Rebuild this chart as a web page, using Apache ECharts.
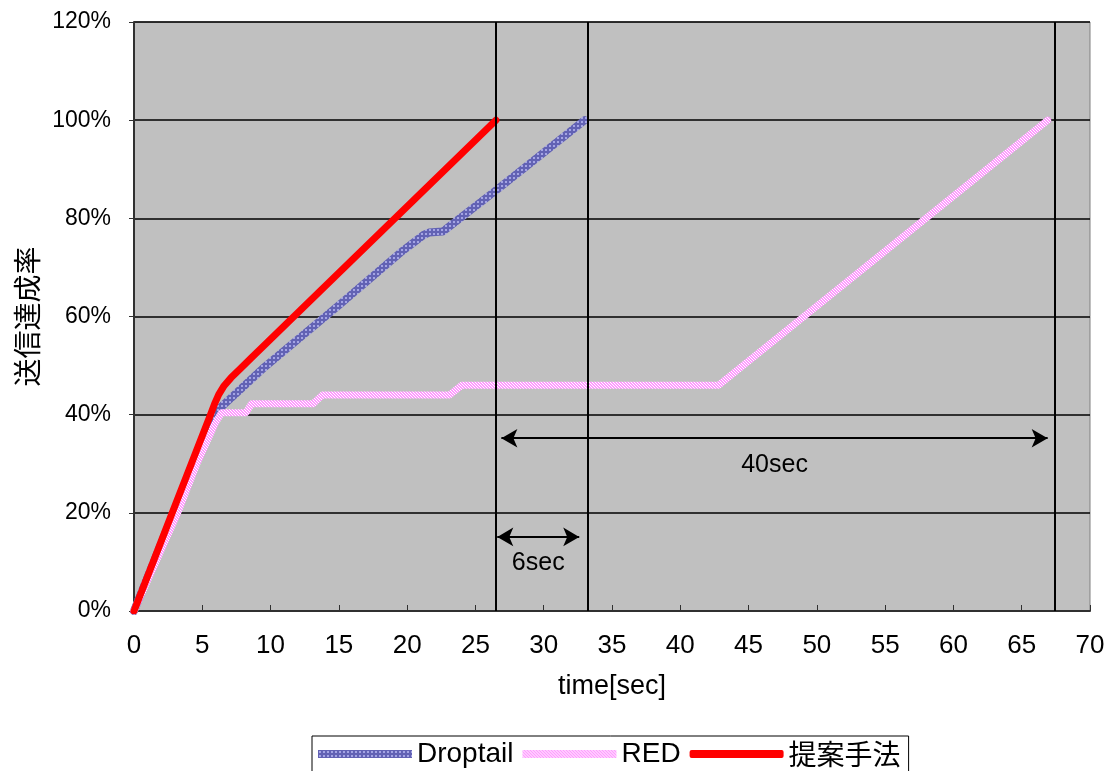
<!DOCTYPE html>
<html>
<head>
<meta charset="utf-8">
<script src="https://cdn.jsdelivr.net/npm/echarts@6/dist/echarts.min.js"></script>
<style>
  html, body { margin: 0; padding: 0; background: #ffffff; }
  #chart { width: 1109px; height: 771px; }
</style>
</head>
<body>
<div id="chart"></div>
<script>
// Cumulative transmission completion rate (%) over time (sec)
const droptailData = [
  [0, 0], [2.9, 20], [5.7, 40], [6.4, 41.6], [8, 45.7], [9.6, 49.8], [15, 62.3],
  [19.5, 73], [21.2, 76.6], [21.6, 77.1], [22.6, 77.3], [23.3, 78.8], [26.6, 85.9], [33.0, 100]
];
const redData = [
  [0, 0], [1.6, 10], [3.2, 20], [4.6, 30], [5.9, 38], [6.4, 40.4], [8.2, 40.4], [8.6, 42.2],
  [13.1, 42.2], [13.8, 44], [23.1, 44], [24.0, 46], [42.8, 46], [66.9, 100]
];
const proposedData = [
  [0, 0], [1.4, 10], [2.8, 20], [4.2, 30], [5.6, 40], [5.9, 42.2], [6.2, 44.1], [6.6, 45.9],
  [7.1, 47.5], [7.8, 49.4], [8.6, 51.6], [9.6, 54.3], [26.5, 100]
];
const seriesNames = ['Droptail', 'RED', '提案手法'];

// Completion times marked by vertical lines
const finishTimes = [26.5, 33.2, 67.4];
// Span annotations: start time, duration (sec), height (%)
const spanStarts = [26.6, 26.9];
const spanDurations = [6, 40];
const spanLevels = [15.1, 35.2];

const xTicks = { min: 0, max: 70, interval: 5 };
const yTicks = { min: 0, max: 120, interval: 20 };

function makePattern(size, base, dots, dotColor) {
  const c = document.createElement('canvas');
  c.width = size; c.height = size;
  const ctx = c.getContext('2d');
  ctx.fillStyle = base;
  ctx.fillRect(0, 0, size, size);
  ctx.fillStyle = dotColor;
  dots.forEach(d => ctx.fillRect(d[0], d[1], 1, 1));
  return { image: c, repeat: 'repeat' };
}

const blueTex = makePattern(4, '#6262b4', [[1, 1], [2, 1], [1, 2], [2, 2]], '#a4a4e4');
const pinkTex = makePattern(3, '#ff99ff', [[0, 0], [1, 1], [2, 2]], '#ffffff');

const chart = echarts.init(document.getElementById('chart'), null, { renderer: 'canvas' });

const markLines = [];
finishTimes.forEach(t => {
  markLines.push([
    { coord: [t, yTicks.min], symbol: 'none', lineStyle: { color: '#000', width: 2, type: 'solid' }, label: { show: false } },
    { coord: [t, yTicks.max], symbol: 'none' }
  ]);
});
spanStarts.forEach((s, i) => {
  markLines.push([
    {
      coord: [s, spanLevels[i]], symbol: 'arrow', symbolSize: [14, 16],
      lineStyle: { color: '#000', width: 2, type: 'solid' },
      label: {
        show: true, position: 'insideMiddleBottom', distance: 14,
        formatter: spanDurations[i] + 'sec',
        color: '#000', fontFamily: 'Liberation Sans', fontSize: 25
      }
    },
    { coord: [s + spanDurations[i], spanLevels[i]], symbol: 'arrow', symbolSize: [14, 16] }
  ]);
});

const option = {
  animation: false,
  backgroundColor: '#ffffff',
  grid: {
    left: 134, right: 19, top: 22, bottom: 160,
    show: true, backgroundColor: '#c0c0c0', borderColor: '#808080', borderWidth: 1
  },
  legend: {
    data: [
      { name: 'Droptail', icon: 'rect' },
      { name: 'RED', icon: 'rect' },
      { name: '提案手法', icon: 'roundRect' }
    ],
    left: 312, top: 736,
    itemWidth: 94, itemHeight: 8, itemGap: 9,
    padding: [4, 8, 14, 6],
    borderColor: '#000', borderWidth: 1, backgroundColor: '#ffffff',
    formatter: name => name === '提案手法' ? '{jp|' + name + '}' : name,
    textStyle: {
      color: '#000', fontFamily: 'Liberation Sans', fontSize: 28,
      rich: { jp: { fontFamily: 'Noto Sans CJK JP', fontSize: 28, color: '#000' } }
    }
  },
  xAxis: {
    type: 'value', min: xTicks.min, max: xTicks.max, interval: xTicks.interval,
    name: 'time[sec]', nameLocation: 'middle', nameGap: 62,
    nameTextStyle: { color: '#000', fontFamily: 'Liberation Sans', fontSize: 27 },
    axisLine: { show: true, onZero: false, lineStyle: { color: '#303030', width: 2 } },
    axisTick: { show: true, inside: true, length: 6, lineStyle: { color: '#303030' } },
    axisLabel: { color: '#000', fontFamily: 'Liberation Sans', fontSize: 26, margin: 22 },
    splitLine: { show: false }
  },
  yAxis: {
    type: 'value', min: yTicks.min, max: yTicks.max, interval: yTicks.interval,
    name: '送信達成率', nameLocation: 'middle', nameGap: 92, nameRotate: 90,
    nameTextStyle: { color: '#000', fontFamily: 'Noto Sans CJK JP', fontSize: 28 },
    axisLine: { show: true, lineStyle: { color: '#303030', width: 2 } },
    axisTick: { show: true, inside: false, length: 5, lineStyle: { color: '#303030' } },
    axisLabel: { color: '#000', fontFamily: 'Liberation Sans', fontSize: 23, margin: 23, formatter: '{value}%' },
    splitLine: { show: true, lineStyle: { color: '#000', width: 1.5 } }
  },
  series: [
    {
      name: seriesNames[0], type: 'line', data: droptailData, symbol: 'none',
      color: blueTex, itemStyle: { color: blueTex },
      lineStyle: { color: blueTex, width: 8, cap: 'round', join: 'round' }, z: 2
    },
    {
      name: seriesNames[1], type: 'line', data: redData, symbol: 'none',
      color: pinkTex, itemStyle: { color: pinkTex },
      lineStyle: { color: pinkTex, width: 7, cap: 'round', join: 'round' }, z: 3
    },
    {
      name: seriesNames[2], type: 'line', data: proposedData, symbol: 'none',
      color: '#ff0000', itemStyle: { color: '#ff0000' },
      lineStyle: { color: '#ff0000', width: 7, cap: 'round', join: 'round' }, z: 4,
      markLine: { silent: true, animation: false, symbol: ['none', 'none'], data: markLines }
    }
  ]
};

chart.setOption(option);
</script>
</body>
</html>
